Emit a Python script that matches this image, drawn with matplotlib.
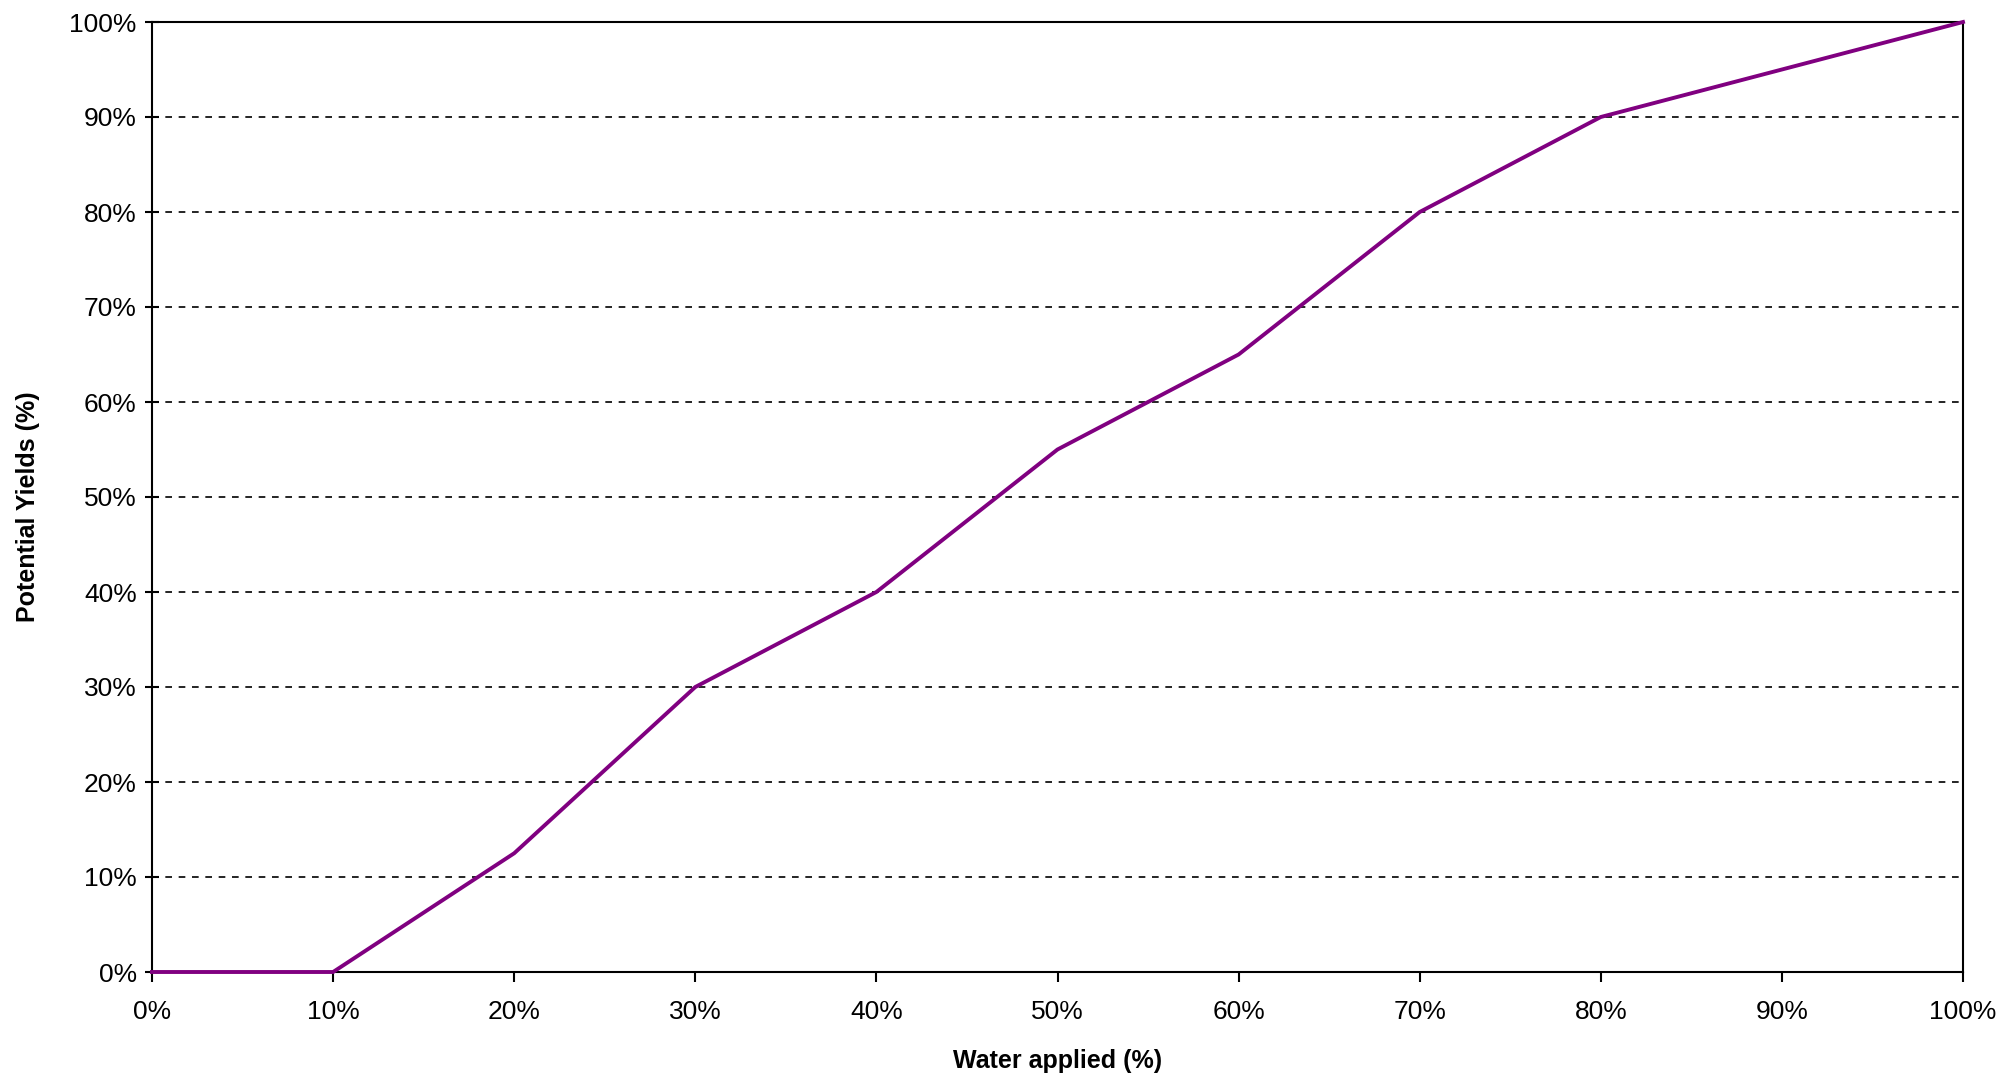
"""
Potential yield vs. water applied (line chart, Excel-like style).
"""
import matplotlib
matplotlib.use('Agg')
import matplotlib.pyplot as plt
import matplotlib.ticker as mticker

# ── Data ───────────────────────────────────────────────────────────────────────
water_applied = [0, 10, 20, 30, 40, 50, 60, 70, 80, 90, 100]
potential_yield = [0, 0, 12.5, 30, 40, 55, 65, 80, 90, 95, 100]
y_ticks = list(range(0, 101, 10))
x_ticks = list(range(0, 101, 10))

plt.rcParams['font.family'] = ['Liberation Sans', 'DejaVu Sans']

# ── Plot ───────────────────────────────────────────────────────────────────────
W, H = 2008, 1081
fig = plt.figure(figsize=(W / 100, H / 100), dpi=100)
left, right, top, bottom = 152, 1963, 22, 972
ax = fig.add_axes([left / W, 1 - bottom / H, (right - left) / W, (bottom - top) / H])

ax.plot(water_applied, potential_yield, color='#800080', linewidth=2.8,
        solid_joinstyle='miter', zorder=3, clip_on=False)

ax.set_xlim(0, 100)
ax.set_ylim(0, 100)
ax.set_xticks(x_ticks)
ax.set_yticks(y_ticks)
ax.xaxis.set_major_formatter(mticker.FuncFormatter(lambda v, _: f"{v:.0f}%"))
ax.yaxis.set_major_formatter(mticker.FuncFormatter(lambda v, _: f"{v:.0f}%"))

# dashed horizontal gridlines
ax.grid(axis='y', color='#000000', linestyle=(0, (4, 4)), linewidth=1.2, zorder=1)

for s in ax.spines.values():
    s.set_linewidth(1.5)
    s.set_color('black')

ax.tick_params(axis='y', direction='inout', length=10, width=1.5, labelsize=19, pad=6)
ax.tick_params(axis='x', direction='out', length=7, width=1.5, labelsize=19, pad=13)

ax.set_xlabel("Water applied (%)", fontsize=18, fontweight='bold', labelpad=18)
ax.set_ylabel("Potential Yields (%)", fontsize=18, fontweight='bold', labelpad=20)
ax.yaxis.set_label_coords(-0.062, 0.49)

fig.savefig("out.png", dpi=100)
plt.close(fig)
